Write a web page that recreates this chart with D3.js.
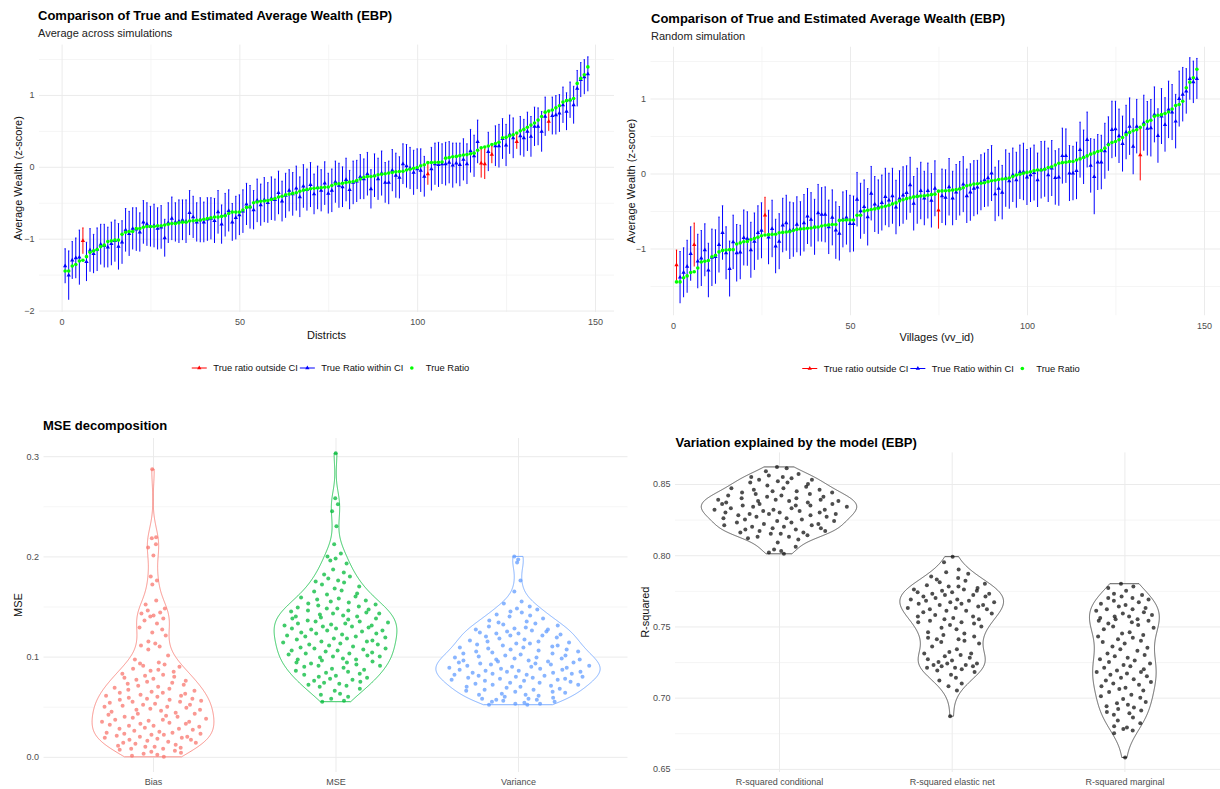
<!DOCTYPE html>
<html>
<head>
<meta charset="utf-8">
<script src="https://cdnjs.cloudflare.com/ajax/libs/d3/7.8.5/d3.min.js"></script>
<style>
  body { margin: 0; background: #fff; }
  svg { font-family: "Liberation Sans", Arial, sans-serif; }
</style>
</head>
<body>
<svg id="chart" width="1220" height="789"></svg>
<script>
// ---- top left: average across simulations (148 districts, sorted by true value)
var tlTrue = [-1.45,-1.45,-1.38,-1.36,-1.31,-1.30,-1.25,-1.19,-1.17,-1.15,
  -1.11,-1.09,-1.04,-1.03,-1.02,-1.02,-0.94,-0.91,-0.90,-0.90,
  -0.86,-0.86,-0.84,-0.83,-0.83,-0.83,-0.82,-0.82,-0.81,-0.80,
  -0.79,-0.79,-0.78,-0.77,-0.77,-0.755,-0.75,-0.745,-0.74,-0.73,
  -0.72,-0.71,-0.70,-0.70,-0.69,-0.68,-0.65,-0.63,-0.63,-0.63,
  -0.60,-0.565,-0.56,-0.50,-0.49,-0.48,-0.475,-0.47,-0.455,-0.44,
  -0.42,-0.41,-0.39,-0.38,-0.37,-0.36,-0.34,-0.325,-0.315,-0.305,
  -0.30,-0.295,-0.29,-0.285,-0.28,-0.26,-0.24,-0.235,-0.23,-0.22,
  -0.213,-0.205,-0.19,-0.17,-0.145,-0.134,-0.134,-0.128,-0.11,-0.105,
  -0.097,-0.088,-0.08,-0.07,-0.065,-0.063,-0.045,-0.035,-0.02,-0.01,
  0.015,0.028,0.058,0.06,0.062,0.064,0.066,0.12,0.13,0.14,
  0.145,0.155,0.165,0.17,0.18,0.19,0.23,0.264,0.275,0.29,
  0.31,0.325,0.34,0.405,0.41,0.43,0.445,0.47,0.50,0.52,
  0.55,0.58,0.61,0.65,0.70,0.76,0.775,0.79,0.82,0.85,
  0.90,0.92,0.93,0.95,1.16,1.23,1.28,1.39];
var tlEst = [-1.38,-1.51,-1.30,-1.27,-1.26,-1.03,-1.32,-1.16,-1.21,-1.15,
  -1.08,-1.10,-1.12,-1.07,-1.03,-1.11,-1.05,-0.88,-0.93,-0.86,
  -0.87,-0.91,-0.77,-0.80,-0.83,-0.82,-0.86,-0.84,-0.99,-0.78,
  -0.72,-0.77,-0.76,-0.74,-0.76,-0.64,-0.70,-0.77,-0.74,-0.77,
  -0.73,-0.72,-0.75,-0.63,-0.80,-0.67,-0.61,-0.77,-0.71,-0.67,
  -0.62,-0.52,-0.56,-0.60,-0.47,-0.53,-0.46,-0.50,-0.44,-0.46,
  -0.36,-0.48,-0.40,-0.33,-0.38,-0.30,-0.42,-0.27,-0.32,-0.25,
  -0.38,-0.29,-0.33,-0.23,-0.37,-0.33,-0.21,-0.26,-0.28,-0.18,
  -0.32,-0.22,-0.20,-0.14,-0.17,-0.10,-0.31,-0.12,-0.17,-0.09,
  -0.22,-0.22,-0.05,-0.12,-0.15,0.04,0.01,-0.02,-0.08,-0.03,
  -0.05,-0.135,-0.10,-0.03,0.04,0.03,0.04,0.04,0.06,0.02,
  0.05,0.03,0.10,0.04,0.22,0.15,0.35,0.05,0.04,0.21,
  0.17,0.29,0.29,0.39,0.30,0.45,0.40,0.35,0.43,0.40,
  0.49,0.42,0.56,0.56,0.49,0.70,0.63,0.71,0.72,0.745,
  0.86,0.77,0.93,0.86,1.09,1.21,1.25,1.29];
var tlHalf = [0.24,0.34,0.26,0.28,0.38,0.18,0.27,0.30,0.27,0.30,
  0.28,0.30,0.28,0.30,0.29,0.32,0.30,0.30,0.31,0.29,
  0.30,0.27,0.30,0.30,0.28,0.30,0.29,0.30,0.26,0.28,
  0.30,0.27,0.30,0.28,0.30,0.31,0.29,0.27,0.31,0.28,
  0.30,0.29,0.31,0.30,0.27,0.30,0.29,0.26,0.30,0.28,
  0.30,0.29,0.30,0.27,0.30,0.29,0.31,0.28,0.30,0.29,
  0.30,0.28,0.31,0.29,0.30,0.31,0.28,0.30,0.29,0.31,
  0.28,0.30,0.29,0.30,0.28,0.30,0.29,0.31,0.28,0.30,
  0.27,0.30,0.29,0.31,0.28,0.30,0.27,0.30,0.29,0.31,
  0.28,0.30,0.29,0.31,0.29,0.28,0.30,0.29,0.31,0.28,
  0.30,0.28,0.15,0.30,0.29,0.31,0.28,0.30,0.29,0.31,
  0.28,0.30,0.29,0.28,0.30,0.29,0.30,0.20,0.21,0.27,
  0.12,0.28,0.30,0.28,0.29,0.27,0.28,0.10,0.27,0.26,
  0.27,0.28,0.27,0.26,0.28,0.27,0.13,0.26,0.27,0.26,
  0.25,0.26,0.25,0.26,0.25,0.24,0.24,0.24];

// ---- top right: one random simulation (148 villages)
var trTrue = [-1.445,-1.445,-1.39,-1.365,-1.32,-1.31,-1.26,-1.18,-1.17,-1.16,
  -1.11,-1.09,-1.045,-1.025,-1.02,-1.015,-1.015,-0.94,-0.925,-0.91,
  -0.905,-0.88,-0.865,-0.85,-0.83,-0.82,-0.815,-0.812,-0.81,-0.79,
  -0.785,-0.78,-0.776,-0.76,-0.745,-0.74,-0.735,-0.73,-0.727,-0.715,
  -0.713,-0.70,-0.69,-0.685,-0.68,-0.68,-0.625,-0.624,-0.62,-0.62,
  -0.62,-0.557,-0.557,-0.50,-0.49,-0.48,-0.472,-0.463,-0.446,-0.436,
  -0.423,-0.405,-0.392,-0.365,-0.35,-0.335,-0.325,-0.312,-0.305,-0.30,
  -0.298,-0.29,-0.282,-0.275,-0.235,-0.232,-0.23,-0.228,-0.221,-0.215,
  -0.208,-0.19,-0.164,-0.154,-0.141,-0.137,-0.13,-0.123,-0.11,-0.097,
  -0.09,-0.08,-0.074,-0.07,-0.06,-0.04,-0.02,-0.011,0.002,0.015,
  0.024,0.038,0.047,0.047,0.056,0.08,0.091,0.114,0.137,0.145,
  0.15,0.159,0.16,0.18,0.195,0.213,0.235,0.258,0.275,0.293,
  0.306,0.338,0.383,0.413,0.427,0.45,0.48,0.517,0.548,0.57,
  0.584,0.615,0.651,0.695,0.709,0.762,0.776,0.785,0.80,0.821,
  0.861,0.906,0.919,0.963,1.143,1.218,1.277,1.389];
var trEst = [-1.22,-1.385,-1.32,-1.24,-1.07,-0.95,-1.17,-1.13,-1.02,-1.29,
  -1.12,-1.11,-0.95,-0.79,-1.06,-1.27,-0.915,-1.06,-1.05,-0.856,
  -0.87,-1.02,-0.906,-0.79,-0.76,-0.557,-0.85,-0.736,-0.97,-0.906,
  -0.69,-0.66,-0.76,-0.75,-0.68,-0.736,-0.66,-0.57,-0.615,-0.714,
  -0.526,-0.548,-0.548,-0.714,-0.588,-0.758,-0.80,-0.615,-0.588,-0.67,
  -0.67,-0.346,-0.50,-0.445,-0.58,-0.266,-0.41,-0.445,-0.39,-0.31,
  -0.356,-0.30,-0.45,-0.333,-0.29,-0.257,-0.154,-0.40,-0.30,-0.23,
  -0.33,-0.23,-0.36,-0.20,-0.49,-0.30,-0.32,-0.18,-0.33,-0.25,
  -0.20,-0.145,-0.30,-0.25,-0.199,-0.185,-0.12,-0.087,-0.06,0.003,
  -0.275,-0.20,-0.252,-0.064,-0.10,-0.02,-0.087,0.02,0.024,-0.05,
  -0.02,0.01,-0.087,0.047,0.06,-0.02,0.07,-0.056,-0.05,0.235,
  0.235,0.003,0.003,0.038,0.315,0.22,0.45,0.105,-0.043,0.15,
  0.15,0.30,0.396,0.584,0.593,0.50,0.396,0.55,0.628,0.36,
  0.628,0.248,0.674,0.60,0.607,0.785,0.503,0.763,0.651,0.852,
  0.816,0.695,0.996,1.054,1.098,1.264,1.219,1.264];
var trHalf = [0.20,0.345,0.33,0.35,0.36,0.29,0.36,0.37,0.35,0.36,
  0.38,0.36,0.37,0.36,0.35,0.37,0.36,0.38,0.36,0.37,
  0.36,0.37,0.38,0.36,0.37,0.24,0.36,0.38,0.36,0.37,
  0.36,0.37,0.38,0.36,0.37,0.36,0.38,0.37,0.36,0.37,
  0.38,0.36,0.37,0.36,0.37,0.38,0.36,0.37,0.36,0.38,
  0.37,0.36,0.37,0.36,0.38,0.36,0.37,0.36,0.37,0.38,
  0.36,0.37,0.36,0.37,0.38,0.36,0.37,0.36,0.37,0.38,
  0.36,0.37,0.36,0.37,0.245,0.36,0.37,0.38,0.36,0.37,
  0.36,0.37,0.36,0.38,0.37,0.36,0.37,0.36,0.38,0.37,
  0.36,0.37,0.36,0.38,0.37,0.36,0.37,0.36,0.38,0.37,
  0.36,0.37,0.36,0.38,0.37,0.36,0.37,0.36,0.38,0.37,
  0.36,0.37,0.36,0.38,0.37,0.36,0.37,0.36,0.50,0.37,
  0.36,0.37,0.36,0.38,0.37,0.36,0.37,0.36,0.38,0.37,
  0.36,0.34,0.37,0.36,0.38,0.37,0.36,0.37,0.36,0.38,
  0.37,0.36,0.37,0.36,0.30,0.28,0.28,0.27];

// ---- bottom left: MSE decomposition (one value per district)
var mseCats = ["Bias", "MSE", "Variance"];
var biasVals = [0.000,0.001,0.002,0.003,0.004,0.005,0.006,0.007,0.008,0.008,0.009,0.010,0.010,
  0.011,0.012,0.013,0.014,0.014,0.015,0.016,0.017,0.017,0.018,0.019,0.019,0.020,0.020,0.021,0.022,0.022,0.023,0.023,0.024,0.024,0.025,
  0.026,0.027,0.028,0.028,0.029,0.030,0.031,0.031,0.032,0.033,0.033,0.034,0.035,0.035,0.036,0.037,0.037,0.038,0.039,0.040,0.040,0.041,0.042,0.043,0.043,0.044,0.045,
  0.046,0.047,0.047,0.048,0.049,0.050,0.050,0.051,0.052,0.052,0.053,0.054,0.055,0.055,0.056,0.057,0.057,0.058,0.058,0.059,0.060,0.061,0.061,0.062,0.063,0.064,0.064,0.065,
  0.066,0.067,0.068,0.069,0.070,0.071,0.072,0.073,0.074,0.075,0.076,0.077,0.078,0.079,0.080,0.081,0.082,0.083,0.085,
  0.086,0.087,0.088,0.090,0.091,0.092,0.093,0.094,0.097,
  0.101,0.107,0.110,0.111,0.113,0.115,0.121,0.124,0.127,0.129,
  0.133,0.136,0.138,0.140,0.141,0.143,0.144,0.146,0.148,0.152,0.156,
  0.172,0.176,0.180,0.201,0.209,0.212,0.218,0.219,0.287];
var mseVals = [0.055,0.056,0.058,0.060,0.062,0.063,0.066,0.068,
  0.070,0.071,0.072,0.073,0.074,0.075,0.076,0.077,0.078,0.079,0.080,0.081,0.082,0.083,0.084,0.085,0.086,0.087,0.088,0.089,
  0.090,0.091,0.091,0.092,0.093,0.094,0.094,0.095,0.096,0.097,0.097,0.098,0.099,0.100,0.100,0.101,0.102,0.103,0.103,0.104,0.105,0.106,0.106,0.107,0.108,0.108,0.109,0.110,
  0.111,0.112,0.112,0.113,0.114,0.115,0.115,0.116,0.117,0.118,0.118,0.119,0.120,0.120,0.121,0.122,0.123,0.123,0.124,0.125,0.126,0.126,0.127,0.128,0.128,0.129,0.130,0.130,
  0.131,0.131,0.132,0.133,0.133,0.134,0.135,0.135,0.136,0.137,0.138,0.138,0.139,0.140,0.140,0.141,0.142,0.143,0.143,0.144,0.145,0.146,0.146,0.147,0.148,0.148,0.149,0.150,
  0.151,0.152,0.153,0.154,0.155,0.156,0.157,0.158,0.159,0.160,0.162,0.163,0.165,0.166,0.168,0.170,
  0.172,0.174,0.175,0.176,0.178,0.180,0.182,0.184,0.187,
  0.193,0.196,0.198,0.200,0.203,0.212,0.230,0.245,0.252,0.258,0.303];
var varVals = [0.052,0.052,0.053,0.053,0.054,0.055,0.055,0.056,0.057,0.057,0.058,0.058,0.059,0.060,
  0.061,0.062,0.062,0.063,0.064,0.065,0.065,0.066,0.067,0.067,0.068,0.069,0.070,0.070,0.071,0.072,0.072,0.073,0.074,0.074,0.075,0.076,0.076,0.077,0.077,0.078,0.078,0.079,0.079,0.080,
  0.080,0.081,0.081,0.082,0.082,0.083,0.083,0.084,0.084,0.085,0.085,0.086,0.086,0.087,0.087,0.088,0.088,0.089,0.089,0.090,0.090,0.091,0.091,0.092,0.092,0.093,0.093,0.094,0.094,0.095,0.095,0.096,0.096,0.097,0.097,0.098,0.098,0.099,0.099,0.100,
  0.101,0.101,0.102,0.103,0.103,0.104,0.105,0.105,0.106,0.107,0.107,0.108,0.109,0.109,0.110,0.111,0.111,0.112,0.113,0.113,0.114,0.115,0.115,0.116,0.117,0.118,0.119,0.120,
  0.121,0.121,0.122,0.123,0.123,0.124,0.125,0.125,0.126,0.127,0.127,0.128,0.129,0.130,0.131,0.132,0.133,0.134,0.135,0.136,0.138,0.140,
  0.141,0.142,0.144,0.145,0.147,0.148,0.150,0.153,0.155,
  0.165,0.176,0.194,0.197,0.200];
var mseColors = ["#F8766D", "#00BA38", "#619CFF"];
var mseTicks = [0, 0.1, 0.2, 0.3];
var mseMinor = [0.05, 0.15, 0.25];

// ---- bottom right: R-squared (one value per simulation)
var r2Cats = ["R-squared conditional", "R-squared elastic net", "R-squared marginal"];
var condVals = [0.801,0.802,0.803,0.804,0.806,0.809,
  0.811,0.812,0.813,0.813,0.814,0.815,0.815,0.816,0.816,0.817,0.817,0.818,0.818,0.819,0.819,0.820,0.820,
  0.821,0.821,0.822,0.822,0.823,0.823,0.824,0.824,0.825,0.825,0.826,0.826,0.827,0.827,0.828,0.828,0.829,0.829,0.829,0.830,0.830,0.830,
  0.831,0.831,0.832,0.832,0.832,0.833,0.833,0.834,0.834,0.835,0.835,0.835,0.836,0.836,0.836,0.837,0.837,0.838,0.838,0.838,0.839,0.839,0.839,0.840,0.840,
  0.841,0.841,0.842,0.842,0.843,0.843,0.844,0.844,0.845,0.845,0.846,0.846,0.847,0.847,0.848,0.849,0.850,
  0.851,0.851,0.852,0.853,0.853,0.854,0.855,0.855,0.856,0.857,0.859,0.861,0.862];
var enetVals = [0.687,0.705,0.708,0.710,0.712,0.714,0.716,0.718,0.719,
  0.720,0.721,0.721,0.722,0.722,0.723,0.723,0.724,0.724,0.725,0.726,0.727,0.728,0.729,
  0.730,0.731,0.731,0.732,0.734,0.736,0.738,0.739,
  0.740,0.741,0.741,0.742,0.743,0.744,0.745,0.746,0.748,0.749,
  0.750,0.751,0.752,0.753,0.753,0.754,0.755,0.755,0.756,0.757,0.757,0.758,0.759,0.760,
  0.761,0.761,0.762,0.762,0.763,0.763,0.764,0.765,0.765,0.766,0.766,0.767,0.767,0.768,0.768,0.769,0.769,0.770,
  0.771,0.771,0.772,0.772,0.773,0.773,0.774,0.774,0.775,0.775,0.776,0.776,0.777,0.778,0.778,0.779,0.780,
  0.781,0.782,0.783,0.784,0.785,0.787,0.788,0.790,0.795,0.799];
var margVals = [0.658,0.675,0.677,0.678,0.679,0.680,0.682,0.684,0.686,0.688,0.689,
  0.690,0.691,0.692,0.693,0.694,0.695,0.696,0.697,0.699,
  0.700,0.701,0.702,0.704,0.705,0.706,0.707,0.708,0.709,
  0.710,0.711,0.712,0.713,0.714,0.715,0.716,0.717,0.718,0.718,0.719,
  0.720,0.721,0.722,0.723,0.724,0.725,0.726,0.727,0.728,0.729,
  0.730,0.731,0.733,0.734,0.735,0.736,0.738,0.739,
  0.740,0.741,0.742,0.743,0.744,0.745,0.746,0.748,0.749,
  0.750,0.751,0.752,0.753,0.754,0.754,0.755,0.755,0.756,0.757,0.757,0.758,0.759,0.760,
  0.761,0.762,0.762,0.763,0.764,0.765,0.766,0.767,0.768,0.769,0.770,0.770,
  0.771,0.772,0.773,0.775,0.777,0.778,0.780];
var r2Ticks = [0.65, 0.70, 0.75, 0.80, 0.85];
var r2Minor = [0.675, 0.725, 0.775, 0.825];

// horizontal spread of the dots inside each violin, as a share of its half width
var jitter = [0.42,-0.77,0.15,-0.31,0.88,-0.05,0.63,-0.92,0.27,-0.58,0.71,-0.19,0.04,-0.84,0.53,
  -0.40,0.95,-0.66,0.33,-0.12,0.79,-0.49,0.09,-0.97,0.58,-0.26,0.68,-0.71,0.21,-0.03,
  0.91,-0.55,0.37,-0.88,0.12,-0.35,0.74,-0.62,0.48,-0.15,0.85,-0.44,0.01,-0.79,0.60,
  -0.23,0.30,-0.93,0.66,-0.08,0.18,-0.69,0.97,-0.37,0.45,-0.52,0.24,-0.82,0.77,-0.28];

var idxTicks = [0, 50, 100, 150];
var idxMinor = [25, 75, 125];
var legendLabels = ["True ratio outside CI", "True Ratio within CI", "True Ratio"];

var FONT = "Liberation Sans, Arial, sans-serif";
var svg = d3.select("#chart");

function addGrid(g, x, y, p, xMaj, xMin, yMaj, yMin) {
  var h = p.bottom - p.top, w = p.right - p.left;
  function vlines(vals, col, sw) {
    g.append("g").attr("transform", `translate(0,${p.bottom})`)
      .call(d3.axisBottom(x).tickValues(vals).tickSize(-h).tickFormat(""))
      .call(s => s.select(".domain").remove())
      .selectAll("line").attr("stroke", col).attr("stroke-width", sw);
  }
  function hlines(vals, col, sw) {
    g.append("g").attr("transform", `translate(${p.left},0)`)
      .call(d3.axisLeft(y).tickValues(vals).tickSize(-w).tickFormat(""))
      .call(s => s.select(".domain").remove())
      .selectAll("line").attr("stroke", col).attr("stroke-width", sw);
  }
  vlines(xMin, "#f3f3f3", 0.8);
  hlines(yMin, "#f3f3f3", 0.8);
  vlines(xMaj, "#ebebeb", 1);
  hlines(yMaj, "#ebebeb", 1);
}

function addAxes(g, x, y, p, xTicks, yTicks, xFmt, yFmt) {
  g.append("g").attr("transform", `translate(0,${p.bottom})`)
    .call(d3.axisBottom(x).tickValues(xTicks).tickSize(0).tickPadding(7).tickFormat(xFmt))
    .call(s => s.select(".domain").remove())
    .attr("font-family", FONT).attr("font-size", 9)
    .selectAll("text").attr("fill", "#4d4d4d");
  g.append("g").attr("transform", `translate(${p.left},0)`)
    .call(d3.axisLeft(y).tickValues(yTicks).tickSize(0).tickPadding(4.5).tickFormat(yFmt))
    .call(s => s.select(".domain").remove())
    .attr("font-family", FONT).attr("font-size", 9)
    .selectAll("text").attr("fill", "#4d4d4d");
}

function addTitles(g, p) {
  g.append("text").attr("x", p.titleX).attr("y", p.titleY)
    .attr("font-size", 13).attr("font-weight", "bold").attr("fill", "#000").text(p.title);
  if (p.subtitle) {
    g.append("text").attr("x", p.titleX).attr("y", p.titleY + 17)
      .attr("font-size", 11).attr("fill", "#222").text(p.subtitle);
  }
  if (p.xLabel) {
    g.append("text").attr("x", (p.left + p.right) / 2).attr("y", p.xLabelY)
      .attr("text-anchor", "middle").attr("font-size", 11).attr("fill", "#111").text(p.xLabel);
  }
  g.append("text")
    .attr("transform", `translate(${p.yLabelX},${(p.top + p.bottom) / 2}) rotate(-90)`)
    .attr("text-anchor", "middle").attr("font-size", 11).attr("fill", "#111").text(p.yLabel);
}

function errorPanel(p) {
  var g = svg.append("g");
  var x = d3.scaleLinear().domain([-6.35, 155.35]).range([p.left, p.right]);
  var y = d3.scaleLinear().domain(p.yDomain).range([p.bottom, p.top]);
  addGrid(g, x, y, p, idxTicks, idxMinor, p.yTicks, p.yMinor);
  addAxes(g, x, y, p, idxTicks, p.yTicks, d3.format("d"), d3.format("d"));
  addTitles(g, p);

  var rows = p.trueVals.map((t, i) => {
    var lo = p.est[i] - p.half[i], hi = p.est[i] + p.half[i];
    return { id: i + 1, t: t, est: p.est[i], lo: lo, hi: hi, out: t < lo || t > hi };
  });
  var col = d => d.out ? "#ff0000" : "#0000ff";

  var bars = g.append("g").selectAll("g").data(rows).enter().append("g");
  bars.append("line")
    .attr("x1", d => x(d.id)).attr("x2", d => x(d.id))
    .attr("y1", d => y(d.lo)).attr("y2", d => y(d.hi))
    .attr("stroke", col).attr("stroke-width", 1);
  bars.append("line")
    .attr("x1", d => x(d.id) - 0.7).attr("x2", d => x(d.id) + 0.7)
    .attr("y1", d => y(d.hi)).attr("y2", d => y(d.hi))
    .attr("stroke", col).attr("stroke-width", 0.8);

  var tri = d3.symbol().type(d3.symbolTriangle).size(8);
  g.append("g").selectAll("path").data(rows).enter().append("path")
    .attr("d", tri)
    .attr("transform", d => `translate(${x(d.id)},${y(d.est)})`)
    .attr("fill", col);

  g.append("g").selectAll("circle").data(rows).enter().append("circle")
    .attr("cx", d => x(d.id)).attr("cy", d => y(d.t)).attr("r", 1.8)
    .attr("fill", "#00ff00");

  // legend
  var lg = g.append("g").attr("font-size", 9.4).attr("fill", "#111");
  var cx = 0;
  var items = [];
  legendLabels.forEach((lab, k) => {
    var it = lg.append("g");
    if (k < 2) {
      var c = k === 0 ? "#ff0000" : "#0000ff";
      it.append("line").attr("x1", 0).attr("x2", 15).attr("y1", 0).attr("y2", 0)
        .attr("stroke", c).attr("stroke-width", 1);
      it.append("path").attr("d", tri).attr("transform", "translate(7.5,0)").attr("fill", c);
    } else {
      it.append("circle").attr("cx", 7.5).attr("cy", 0).attr("r", 1.8).attr("fill", "#00ff00");
    }
    var t = it.append("text").attr("x", 21.5).attr("y", 3.3).text(lab);
    var w = 21.5 + t.node().getComputedTextLength();
    items.push({ it: it, x: cx });
    cx += w + (k === 0 ? 2 : 1);
  });
  var start = p.legendCx - cx / 2;
  items.forEach(d => d.it.attr("transform", `translate(${start + d.x},${p.legendY})`));
}

function kde(vals, grid) {
  var s = vals.slice().sort(d3.ascending);
  var n = s.length;
  var iqr = d3.quantileSorted(s, 0.75) - d3.quantileSorted(s, 0.25);
  var bw = 0.9 * Math.min(d3.deviation(s), iqr / 1.34) * Math.pow(n, -0.2);
  var f = v => d3.sum(s, xi => Math.exp(-0.5 * Math.pow((v - xi) / bw, 2))) / (n * bw * Math.sqrt(2 * Math.PI));
  var lo = s[0], hi = s[n - 1];
  var pts = d3.range(grid).map(k => {
    var v = lo + (hi - lo) * k / (grid - 1);
    return [v, f(v)];
  });
  return { pts: pts, f: f };
}

function violinPanel(p) {
  var g = svg.append("g");
  var x = d3.scalePoint().domain(p.cats).range([p.c0, p.c1]);
  var step = x.step();
  var y = d3.scaleLinear().domain(p.yDomain).range([p.bottom, p.top]);
  addGrid(g, x, y, p, p.cats, [], p.yTicks, p.yMinor);
  addAxes(g, x, y, p, p.cats, p.yTicks, d => d, d3.format(p.yFmt));
  addTitles(g, p);

  var dens = p.groups.map(v => kde(v, 512));
  var maxD = d3.max(dens, d => d3.max(d.pts, e => e[1]));
  p.groups.forEach((vals, k) => {
    var c = x(p.cats[k]);
    var hw = v => v / maxD * 0.45 * step;
    var area = d3.area()
      .x0(e => c - hw(e[1])).x1(e => c + hw(e[1]))
      .y(e => y(e[0]));
    g.append("path").datum(dens[k].pts).attr("d", area)
      .attr("fill", "#fff").attr("stroke", p.lineColors[k]).attr("stroke-width", 0.8);

    g.append("g").selectAll("circle").data(vals).enter().append("circle")
      .attr("cx", (v, i) => c + jitter[(i + k * 23) % jitter.length] * hw(dens[k].f(v)) * 0.9)
      .attr("cy", v => y(v))
      .attr("r", 2)
      .attr("fill", p.dotColors[k]).attr("fill-opacity", p.dotOpacity);
  });
}

svg.attr("font-family", FONT);

errorPanel({
  left: 39, right: 614, top: 44.6, bottom: 312,
  yDomain: [-2.02, 1.70], yTicks: [-2, -1, 0, 1], yMinor: [-1.5, -0.5, 0.5, 1.5],
  trueVals: tlTrue, est: tlEst, half: tlHalf,
  title: "Comparison of True and Estimated Average Wealth (EBP)",
  subtitle: "Average across simulations", titleX: 38, titleY: 20,
  xLabel: "Districts", xLabelY: 339, yLabel: "Average Wealth (z-score)", yLabelX: 22,
  legendCx: 331, legendY: 368
});

errorPanel({
  left: 650.5, right: 1222.9, top: 46.75, bottom: 315.25,
  yDomain: [-1.89, 1.69], yTicks: [-1, 0, 1], yMinor: [-1.5, -0.5, 0.5, 1.5],
  trueVals: trTrue, est: trEst, half: trHalf,
  title: "Comparison of True and Estimated Average Wealth (EBP)",
  subtitle: "Random simulation", titleX: 651, titleY: 23,
  xLabel: "Villages (vv_id)", xLabelY: 341, yLabel: "Average Wealth (z-score)", yLabelX: 635,
  legendCx: 941.5, legendY: 368.5
});

violinPanel({
  left: 43.5, right: 627.5, top: 438, bottom: 772, c0: 153, c1: 518,
  cats: mseCats, groups: [biasVals, mseVals, varVals],
  yDomain: [-0.01515, 0.31815], yTicks: mseTicks, yMinor: mseMinor, yFmt: ".1f",
  lineColors: mseColors, dotColors: mseColors, dotOpacity: 0.75,
  title: "MSE decomposition", titleX: 43, titleY: 429.5,
  yLabel: "MSE", yLabelX: 22
});

violinPanel({
  left: 675, right: 1228, top: 452.4, bottom: 772, c0: 779, c1: 1124.4,
  cats: r2Cats, groups: [condVals, enetVals, margVals],
  yDomain: [0.6478, 0.8722], yTicks: r2Ticks, yMinor: r2Minor, yFmt: ".2f",
  lineColors: ["#333", "#333", "#333"], dotColors: ["#111", "#111", "#111"], dotOpacity: 0.75,
  title: "Variation explained by the model (EBP)", titleX: 675.5, titleY: 446.5,
  yLabel: "R-squared", yLabelX: 649
});
</script>
</body>
</html>
